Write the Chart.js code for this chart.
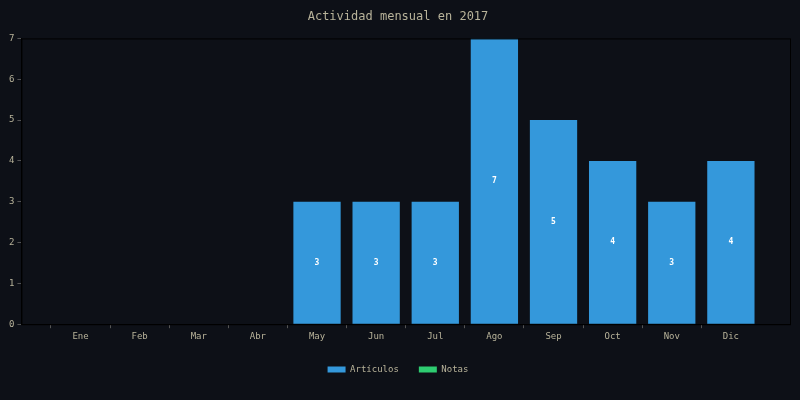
<!DOCTYPE html>
<html><head><meta charset="utf-8">
<script src="https://cdn.jsdelivr.net/npm/chart.js@4"></script>
<style>html,body{margin:0;background:#0d1017;}#c{width:800px;height:400px;}</style>
</head><body><div id="c"><canvas id="cv" width="800" height="400"></canvas></div>
<script>
const categories=["Ene","Feb","Mar","Abr","May","Jun","Jul","Ago","Sep","Oct","Nov","Dic"];
const articulos=[0,0,0,0,3,3,3,7,5,4,3,4];
const notas=[0,0,0,0,0,0,0,0,0,0,0,0];
const yTicks=[0,1,2,3,4,5,6,7];
const pad=a=>[null,...a,null];
const labels=['',...categories,''];
const font={family:"'DejaVu Sans Mono', monospace",size:9};
const labelPlugin={id:'lbl',afterDatasetsDraw(ch){const c=ch.ctx;const meta=ch.getDatasetMeta(0);c.save();c.fillStyle='#fff';c.font="bold 8px 'DejaVu Sans Mono', monospace";c.textAlign='center';c.textBaseline='middle';meta.data.forEach((b,i)=>{const v=articulos[i-1];if(v>0){c.fillText(String(v),b.x,(b.y+b.base)/2);}});c.restore();}};
new Chart(document.getElementById('cv'),{type:'bar',
data:{labels:labels,datasets:[
{label:'Artículos',data:pad(articulos),backgroundColor:'#3498db',grouped:false,barPercentage:0.8,categoryPercentage:1},
{label:'Notas',data:pad(notas),backgroundColor:'#2ecc71',grouped:false,barPercentage:0.8,categoryPercentage:1}]},
options:{responsive:false,animation:false,
layout:{padding:{left:6,right:10,top:0,bottom:16}},
plugins:{title:{display:true,text:'Actividad mensual en 2017',color:'#b8b39a',font:{family:font.family,size:12,weight:'normal'},padding:{top:10,bottom:14}},
legend:{position:'bottom',labels:{color:'#b8b39a',font:font,boxWidth:18,boxHeight:6,padding:20}},tooltip:{enabled:false}},
scales:{x:{offset:false,grid:{display:true,drawOnChartArea:false,color:c=>(c.index===0||c.index===labels.length-1)?'rgba(0,0,0,0)':'#555',tickLength:4},border:{color:'#000'},ticks:{color:'#b8b39a',font:font,autoSkip:false,maxRotation:0}},
y:{min:0,max:7,afterBuildTicks(a){a.ticks=yTicks.map(v=>({value:v}));},grid:{display:true,drawOnChartArea:false,color:'#555',tickLength:4},border:{color:'#000'},ticks:{color:'#b8b39a',font:font}}}},
plugins:[labelPlugin,{id:'frame',afterDraw(ch){const a=ch.chartArea,c=ch.ctx;c.save();c.strokeStyle='#000';c.lineWidth=1;c.strokeRect(a.left+0.5,a.top+0.5,a.width,a.height);c.restore();}}]
});
</script></body></html>
